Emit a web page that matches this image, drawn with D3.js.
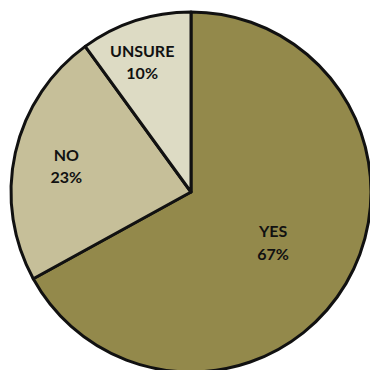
<!DOCTYPE html>
<html>
<head>
<meta charset="utf-8">
<script src="https://cdn.jsdelivr.net/npm/d3@7"></script>
<style>
  html, body { margin: 0; padding: 0; background: #fff; }
  svg { display: block; }
  .lbl { font-family: Lato, "Open Sans", sans-serif; font-weight: bold; font-size: 16px; fill: #111; }
</style>
</head>
<body>
<div id="chart"></div>
<script>
var categories = ['YES', 'NO', 'UNSURE'];
var values = [67, 23, 10];
var colors = ['#93894b', '#c6bf99', '#dddbc4'];

var width = 370, height = 370;
var cx = 191, cy = 192, radius = 180;
// label placement: share of the radius, plus a small pixel nudge
var labelFrac = { YES: 0.53, NO: 0.71, UNSURE: 0.77 };
var labelNudge = { YES: [0, 0], NO: [0, 0], UNSURE: [-6, 0] };

var data = categories.map(function(c, i){ return { name: c, value: values[i], color: colors[i] }; });

var pie = d3.pie()
  .sort(null)
  .value(function(d){ return d.value; });

var arc = d3.arc().innerRadius(0).outerRadius(radius);

var svg = d3.select('#chart').append('svg')
  .attr('width', width).attr('height', height);

var g = svg.append('g')
  .attr('transform', 'translate(' + cx + ',' + cy + ')');

var slices = pie(data);

g.selectAll('path')
  .data(slices)
  .enter()
  .append('path')
  .attr('d', arc)
  .attr('fill', function(d){ return d.data.color; })
  .attr('stroke', '#111')
  .attr('stroke-width', 3)
  .attr('stroke-linejoin', 'round');

var labels = g.selectAll('text')
  .data(slices)
  .enter()
  .append('text')
  .attr('class', 'lbl')
  .attr('text-anchor', 'middle')
  .attr('transform', function(d){
    var r = radius * labelFrac[d.data.name];
    var c = d3.arc().innerRadius(r).outerRadius(r).centroid(d);
    var n = labelNudge[d.data.name];
    return 'translate(' + (c[0] + n[0]) + ',' + (c[1] + n[1]) + ')';
  });

labels.append('tspan')
  .attr('x', 0).attr('dy', '-0.2em')
  .text(function(d){ return d.data.name; });

labels.append('tspan')
  .attr('x', 0).attr('dy', '1.4em')
  .text(function(d){ return Math.round(d.value / d3.sum(values) * 100) + '%'; });
</script>
</body>
</html>
